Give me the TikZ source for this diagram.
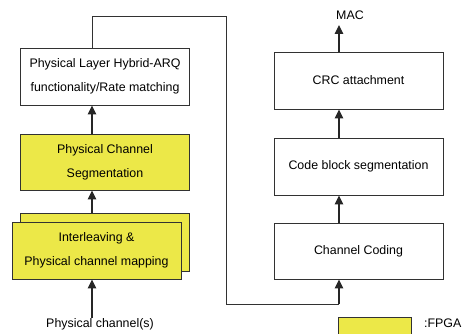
\documentclass[tikz,border=0pt]{standalone}
\usepackage{fontspec}
\setmainfont{Liberation Sans}
\usetikzlibrary{arrows.meta}
\definecolor{fpga}{RGB}{236,232,72}
\definecolor{edge}{RGB}{50,50,50}
\begin{document}
\begin{tikzpicture}[x=1pt,y=-1pt,
  blk/.style={draw=edge,line width=0.9pt,rectangle,inner sep=0pt,align=center,
    font=\fontsize{12.4}{24}\selectfont,minimum width=169pt},
  yel/.style={blk,fill=fpga},
  lbl/.style={inner sep=0pt,font=\fontsize{12.4}{15}\selectfont},
  arr/.style={line width=1.2pt,draw=black!85,-{Triangle[length=9pt,width=8.5pt]}},
  wire/.style={line width=0.9pt,draw=edge}]
\useasboundingbox (0,0) rectangle (466,334);
\begin{scope}
\clip (0,0) rectangle (466,334);
\coordinate (ax) at (92,0);
\coordinate (bx) at (339,0);
\node[blk,minimum height=57pt] (harq) at (105,76.5) {Physical Layer Hybrid-ARQ\\functionality/Rate matching};
\node[yel,minimum height=56pt] (seg) at (105,162) {Physical Channel\\Segmentation};
\node[yel,minimum height=58pt] (ilb) at (104.5,242) {};
\node[yel,minimum height=57pt] (ilf) at (96.5,250.5) {Interleaving \&\\Physical channel mapping};
\node[lbl] (phy) at (100,324) {Physical channel(s)};
\node[blk,minimum height=57pt] (crc) at (358.5,80.5) {CRC attachment};
\node[blk,minimum height=57pt] (cbs) at (358.5,166.5) {Code block segmentation};
\node[blk,minimum height=56pt] (cc) at (358.5,251) {Channel Coding};
\node[lbl] (mac) at (350,15) {MAC};
\coordinate (mactip) at (339,25);
\node[draw=edge,line width=0.9pt,fill=fpga,minimum width=73pt,minimum height=26pt,inner sep=0pt] (leg) at (374.5,330) {};
\node[lbl,anchor=west] (legt) at (424,323) {:FPGA};
\draw[arr] (phy.north -| ax) -- (ilf.south -| ax);
\draw[arr] (ilb.north -| ax) -- (seg.south -| ax);
\draw[arr] (seg.north -| ax) -- (harq.south -| ax);
\draw[wire] (harq.north -| ax) -- (92,16) -- (226,16) -- (226,304) -- (339,304);
\draw[arr] (339,304.45) -- (cc.south -| bx);
\draw[arr] (cc.north -| bx) -- (cbs.south -| bx);
\draw[arr] (cbs.north -| bx) -- (crc.south -| bx);
\draw[arr] (crc.north -| bx) -- (mactip);
\end{scope}
\end{tikzpicture}
\end{document}
